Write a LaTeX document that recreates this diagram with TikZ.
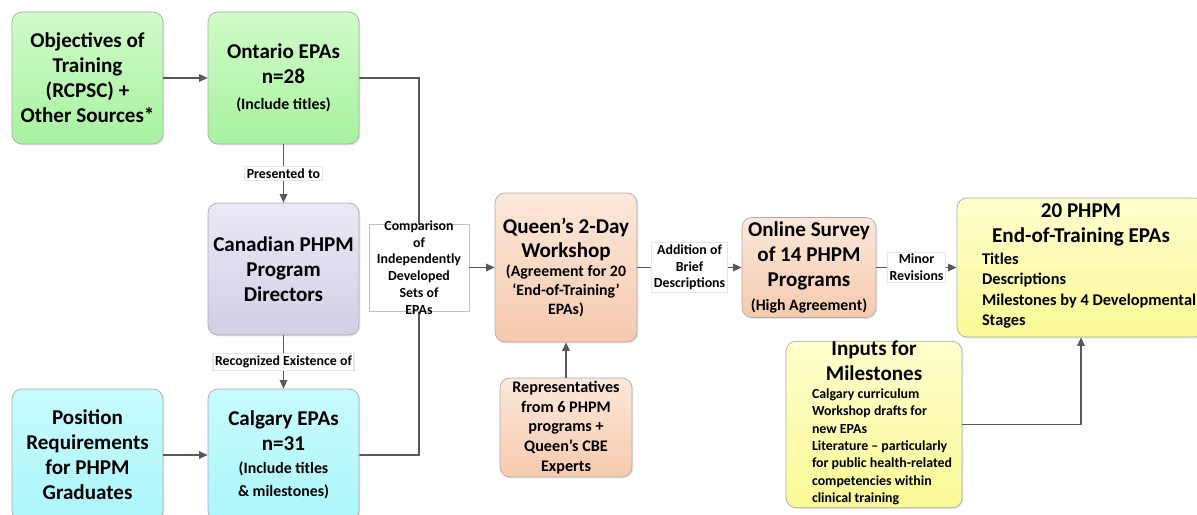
\documentclass[tikz,border=0pt]{standalone}
\usepackage{fontspec}
\setmainfont{Carlito}
\usepackage{tikz}
\usetikzlibrary{arrows.meta, positioning, shadows, backgrounds}
\definecolor{greentop}{RGB}{208,252,200}
\definecolor{greenbot}{RGB}{168,242,160}
\definecolor{lilactop}{RGB}{236,232,245}
\definecolor{lilacbot}{RGB}{212,206,230}
\definecolor{cyantop}{RGB}{200,252,254}
\definecolor{cyanbot}{RGB}{172,246,250}
\definecolor{peachtop}{RGB}{252,232,218}
\definecolor{peachbot}{RGB}{246,202,174}
\definecolor{yellowtop}{RGB}{255,255,206}
\definecolor{yellowbot}{RGB}{250,250,150}
\definecolor{boxline}{RGB}{170,170,170}
\definecolor{linegray}{RGB}{89,89,89}

\newcommand{\ttl}[1]{{\fontsize{12}{14.2}\selectfont #1\par}}
\newcommand{\subtxt}[2][13]{{\fontsize{9}{#1}\selectfont #2\par}}
\newcommand{\itemlist}[3]{{\fontsize{#1}{#2}\selectfont\makebox[\linewidth][l]{\hspace{\listindent}\begin{tabular}[t]{@{}l@{}}#3\end{tabular}}\par}}
\newlength{\listindent}

\begin{document}
\begin{tikzpicture}[
    box/.style={draw=boxline, rounded corners=0.2cm, align=flush center, inner sep=0pt, font=\bfseries,
        minimum width=3.02cm, minimum height=2.64cm, text width=3.02cm,
        drop shadow={opacity=0.18, shadow xshift=0.8pt, shadow yshift=-0.8pt}},
    lbl/.style={fill=white, draw=black!10, inner sep=1.2pt, align=center, font=\bfseries\fontsize{7.9}{9.5}\selectfont},
    arrow/.style={-{Triangle[length=1.7mm, width=1.5mm]}, draw=linegray, line width=0.7pt},
    conn/.style={draw=linegray, line width=0.7pt}
]
    \clip (0,0) rectangle (23.94,-10.28);

    % Left column
    \node[box, top color=greentop, bottom color=greenbot] (obj) at (1.75,-1.56) {\ttl{Objectives of\\Training\\(RCPSC) +\\Other Sources*}};
    \node[box, top color=greentop, bottom color=greenbot] (ont) at (5.67,-1.56) {\ttl{Ontario EPAs\\n=28}\subtxt[14.5]{(Include titles)}};
    \node[box, top color=lilactop, bottom color=lilacbot] (cpd) at (5.67,-5.38) {\ttl{Canadian PHPM\\Program\\Directors}};
    \node[box, top color=cyantop, bottom color=cyanbot] (pos) at (1.75,-9.10) {\ttl{Position\\Requirements\\for PHPM\\Graduates}};
    \node[box, top color=cyantop, bottom color=cyanbot] (cal) at (5.67,-9.10) {\ttl{Calgary EPAs\\n=31}\subtxt{(Include titles\\\& milestones)}};

    % Comparison box
    \node[draw=black!25, fill=white, inner sep=0pt] (cmp) at (8.38,-5.35) {\parbox[c][1.74cm][c]{2cm}{\centering\bfseries\fontsize{7.9}{9.5}\selectfont Comparison\\of\\Independently\\Developed\\Sets of\\EPAs}};

    % Workshop
    \node[box, top color=peachtop, bottom color=peachbot, minimum width=2.84cm, text width=2.84cm, minimum height=2.98cm] (qws) at (11.32,-5.35) {\ttl{Queen’s 2-Day\\Workshop}\subtxt[10.8]{(Agreement for 20\\‘End-of-Training’\\EPAs)}};
    \node[box, top color=peachtop, bottom color=peachbot, minimum width=2.64cm, text width=2.64cm, minimum height=1.98cm] (rep) at (11.32,-8.55) {{\fontsize{9.2}{11.2}\selectfont Representatives\\from 6 PHPM\\programs +\\Queen’s CBE\\Experts\par}};

    % Survey and result
    \node[box, top color=peachtop, bottom color=peachbot, minimum width=2.68cm, text width=2.68cm, minimum height=2.0cm] (ons) at (16.18,-5.35) {\ttl{Online Survey\\of 14 PHPM\\Programs}\subtxt[13.5]{(High Agreement)}};
    \node[box, top color=yellowtop, bottom color=yellowbot, minimum width=4.96cm, text width=4.96cm, minimum height=2.78cm] (fin) at (21.62,-5.35) {\ttl{20 PHPM\\End-of-Training EPAs}\vspace{1pt}\setlength{\listindent}{0.5cm}\itemlist{9.3}{11.6}{Titles\\Descriptions\\Milestones by 4 Developmental\\Stages}};
    \node[box, top color=yellowtop, bottom color=yellowbot, minimum width=3.52cm, text width=3.52cm, minimum height=3.30cm] (inp) at (17.48,-8.49) {\ttl{Inputs for\\Milestones}\setlength{\listindent}{0.52cm}\itemlist{7.9}{9.9}{Calgary curriculum\\Workshop drafts for\\new EPAs\\Literature – particularly\\for public health-related\\competencies within\\clinical training}};

    % Connections
    \draw[arrow] (obj) -- (ont);
    \draw[arrow] (ont) -- node[lbl] {Presented to} (cpd);
    \draw[arrow] (cpd) -- node[lbl] {Recognized Existence of} (cal);
    \draw[arrow] (pos) -- (cal);
    \begin{scope}[on background layer]
        \draw[conn] (ont.east) -| (cmp.center) |- (cal.east);
    \end{scope}
    \draw[arrow] (cmp) -- (qws);
    \draw[arrow] (rep) -- (qws);
    \draw[arrow] (qws) -- node[lbl] {Addition of\\Brief\\Descriptions} (ons);
    \draw[arrow] (ons) -- node[lbl] {Minor\\Revisions} (fin);
    \draw[arrow] (inp.east) -| (fin.south);
\end{tikzpicture}
\end{document}
